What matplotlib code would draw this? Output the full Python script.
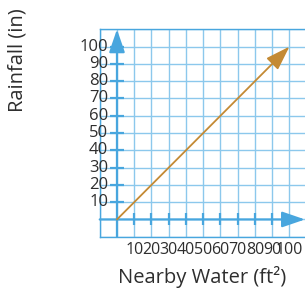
import matplotlib
matplotlib.use("Agg")
import matplotlib.pyplot as plt

# data
x_ticks = [10, 20, 30, 40, 50, 60, 70, 80, 90, 100]
y_ticks = [10, 20, 30, 40, 50, 60, 70, 80, 90, 100]
line_x = [0, 100]
line_y = [0, 100]
grid_vals = list(range(-10, 111, 10))

plt.rcParams['font.family'] = ['Open Sans', 'DejaVu Sans']

blue = '#48a6de'
grid_blue = '#8cc8ec'
text_col = '#2e2e2e'

fig = plt.figure(figsize=(3.05, 2.93), dpi=100)
ax = fig.add_axes([0.327, 0.192, 0.673, 0.708])
ax.set_xlim(-10, 109)
ax.set_ylim(-10, 110)

# grid
for g in grid_vals:
    ax.axvline(g, color=grid_blue, lw=1.0, zorder=1)
    ax.axhline(g, color=grid_blue, lw=1.0, zorder=1)

for s in ax.spines.values():
    s.set_color(blue)
    s.set_linewidth(1.0)
ax.spines['right'].set_visible(False)

# axes with arrows
ax.annotate('', xy=(0, 110), xytext=(0, -10),
            arrowprops=dict(arrowstyle='-|>,head_length=1.4,head_width=0.48',
                            mutation_scale=10, color=blue, lw=1.6,
                            shrinkA=0, shrinkB=0), zorder=3)
ax.annotate('', xy=(109, 0), xytext=(-10, 0),
            arrowprops=dict(arrowstyle='-|>,head_length=1.4,head_width=0.48',
                            mutation_scale=10, color=blue, lw=1.6,
                            shrinkA=0, shrinkB=0), zorder=3)

# tick marks on the axes
ax.plot(x_ticks[:-1], [0] * (len(x_ticks) - 1), linestyle='none', marker='|',
        markersize=8, markeredgewidth=1.6, color=blue, zorder=3)
ax.plot([0] * len(y_ticks), y_ticks, linestyle='none', marker='_',
        markersize=10, markeredgewidth=1.6, color=blue, zorder=3)

# data line with arrow
ax.annotate('', xy=(line_x[1], line_y[1]), xytext=(line_x[0], line_y[0]),
            arrowprops=dict(arrowstyle='-|>,head_length=1.5,head_width=0.5',
                            mutation_scale=10, color='#c48a34', lw=1.3,
                            shrinkA=0, shrinkB=0), zorder=4)

# tick labels
ax.set_xticks(x_ticks)
ax.set_xticklabels([str(v) for v in x_ticks], fontsize=11.5, color=text_col)
ax.tick_params(axis='x', length=0, pad=4)
ax.set_yticks([])
for v in y_ticks:
    ax.text(-5, v, str(v), ha='right', va='center', fontsize=12,
            color=text_col, clip_on=False, zorder=5)

fig.text(0.059, 0.795, 'Rainfall (in)', rotation=90, ha='center', va='center',
         fontsize=14.5, color=text_col)
fig.text(0.663, 0.055, 'Nearby Water (ft²)', ha='center', va='center',
         fontsize=14.5, color=text_col)

fig.savefig('out.png', dpi=100)
